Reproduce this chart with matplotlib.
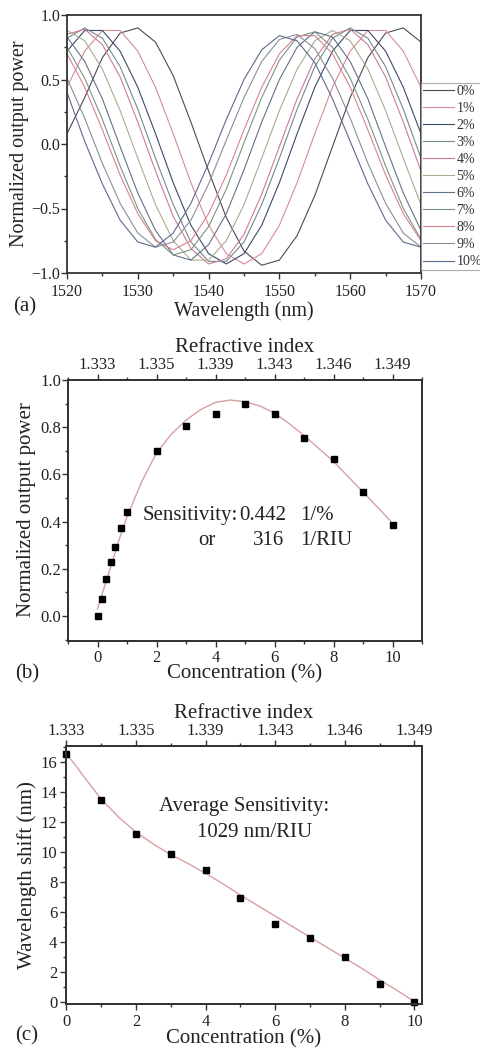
import matplotlib
matplotlib.use("Agg")
import matplotlib.pyplot as plt
from matplotlib.ticker import MultipleLocator, FixedLocator

plt.rcParams['font.family'] = ['Liberation Serif', 'DejaVu Serif']
plt.rcParams['mathtext.fontset'] = 'stix'

# ---- (a) transmission spectra, one per concentration ----
wavelength = [1520, 1522.5, 1525, 1527.5, 1530, 1532.5, 1535, 1537.5, 1540, 1542.5,
              1545, 1547.5, 1550, 1552.5, 1555, 1557.5, 1560, 1562.5, 1565, 1567.5, 1570]
conc_labels = ['0%', '1%', '2%', '3%', '4%', '5%', '6%', '7%', '8%', '9%', '10%']
p0 = [0.08, 0.36, 0.67, 0.86, 0.90, 0.79, 0.53, 0.17, -0.21, -0.57, -0.83, -0.94, -0.90, -0.71, -0.40, -0.02, 0.36, 0.67, 0.86, 0.90, 0.79]
p1 = [0.44, 0.72, 0.88, 0.88, 0.72, 0.44, 0.08, -0.30, -0.63, -0.85, -0.93, -0.85, -0.63, -0.30, 0.08, 0.44, 0.72, 0.88, 0.88, 0.72, 0.44]
p2 = [0.72, 0.88, 0.88, 0.72, 0.44, 0.08, -0.30, -0.63, -0.85, -0.93, -0.85, -0.63, -0.30, 0.08, 0.44, 0.72, 0.88, 0.88, 0.72, 0.44, 0.08]
p3 = [0.82, 0.90, 0.82, 0.60, 0.27, -0.11, -0.47, -0.76, -0.91, -0.91, -0.76, -0.47, -0.11, 0.27, 0.60, 0.82, 0.90, 0.82, 0.60, 0.27, -0.11]
p4 = [0.85, 0.89, 0.77, 0.52, 0.17, -0.21, -0.56, -0.81, -0.93, -0.89, -0.70, -0.39, -0.02, 0.35, 0.66, 0.85, 0.89, 0.77, 0.52, 0.17, -0.21]
p5 = [0.88, 0.80, 0.58, 0.26, -0.11, -0.47, -0.75, -0.90, -0.90, -0.75, -0.47, -0.11, 0.26, 0.58, 0.80, 0.88, 0.80, 0.58, 0.26, -0.11, -0.47]
p6 = [0.83, 0.64, 0.35, -0.02, -0.38, -0.67, -0.86, -0.90, -0.78, -0.54, -0.20, 0.17, 0.50, 0.75, 0.87, 0.83, 0.64, 0.35, -0.02, -0.38, -0.67]
p7 = [0.75, 0.51, 0.19, -0.17, -0.50, -0.74, -0.86, -0.82, -0.64, -0.35, 0.01, 0.36, 0.65, 0.83, 0.87, 0.75, 0.51, 0.19, -0.17, -0.50, -0.74]
p8 = [0.70, 0.44, 0.11, -0.24, -0.54, -0.75, -0.82, -0.75, -0.54, -0.24, 0.11, 0.44, 0.70, 0.84, 0.84, 0.70, 0.44, 0.11, -0.24, -0.54, -0.75]
p9 = [0.51, 0.20, -0.15, -0.46, -0.69, -0.80, -0.76, -0.59, -0.31, 0.03, 0.36, 0.64, 0.81, 0.85, 0.74, 0.51, 0.20, -0.15, -0.46, -0.69, -0.80]
p10 = [0.40, 0.02, -0.31, -0.59, -0.76, -0.80, -0.69, -0.46, -0.15, 0.19, 0.50, 0.73, 0.84, 0.80, 0.63, 0.35, 0.02, -0.31, -0.59, -0.76, -0.80]
spectra = [p0, p1, p2, p3, p4, p5, p6, p7, p8, p9, p10]
spec_colors = ['#4a4a55', '#d98a98', '#3c4a68', '#6f8c8c', '#cf7a98', '#a9ad8c',
               '#62728a', '#7a9484', '#d98290', '#8a8f98', '#5a6b8e']

# ---- (b) output power vs concentration ----
conc_b = [0, 0.15, 0.3, 0.45, 0.6, 0.8, 1, 2, 3, 4, 5, 6, 7, 8, 9, 10]
power_b = [0.0, 0.073, 0.155, 0.227, 0.294, 0.371, 0.439, 0.699, 0.806, 0.857, 0.898,
           0.855, 0.753, 0.665, 0.524, 0.386]
fit_x_b = [0, 0.25, 0.5, 0.75, 1, 1.5, 2, 2.5, 3, 3.5, 4, 4.5, 5, 5.5, 6, 6.5, 7, 7.5,
           8, 8.5, 9, 9.5, 10]
fit_y_b = [0.03, 0.13, 0.23, 0.33, 0.42, 0.57, 0.69, 0.77, 0.83, 0.875, 0.905, 0.915,
           0.908, 0.89, 0.86, 0.815, 0.765, 0.71, 0.655, 0.59, 0.525, 0.46, 0.393]

# ---- (c) wavelength shift vs concentration ----
conc_c = [0, 1, 2, 3, 4, 5, 6, 7, 8, 9, 10]
shift_c = [16.5, 13.44, 11.16, 9.82, 8.78, 6.91, 5.2, 4.22, 3.0, 1.16, 0.0]
fit_x_c = [0, 0.25, 0.5, 1, 1.5, 2, 2.5, 3, 3.5, 4, 4.5, 5, 5.5, 6, 6.5, 7, 7.5, 8,
           8.5, 9, 9.5, 10]
fit_y_c = [16.5, 15.8, 15.0, 13.5, 12.3, 11.3, 10.5, 9.8, 9.2, 8.55, 7.85, 7.1, 6.4,
           5.7, 5.0, 4.3, 3.6, 2.9, 2.2, 1.45, 0.75, 0.0]

ri_ticks = [0, 2, 4, 6, 8, 10]
ri_labels = ['1.333', '1.335', '1.339', '1.343', '1.346', '1.349']

W, H = 481, 1050
fig = plt.figure(figsize=(W / 100, H / 100), dpi=100)


def box(left, top, right, bottom):
    return [left / W, 1 - bottom / H, (right - left) / W, (bottom - top) / H]


def fy(py):
    return 1 - py / H


def style(ax, lsize):
    for s in ax.spines.values():
        s.set_linewidth(1.3)
        s.set_color('#333333')
    ax.tick_params(which='both', direction='out', width=1.0, color='#333333',
                   labelsize=lsize, labelcolor='#222222')
    ax.tick_params(which='major', length=4)
    ax.tick_params(which='minor', length=2.5)


LINE_FIT = '#d7a0a2'

# ===== (a) =====
axa = fig.add_axes(box(67, 15, 421, 273))
for y, c, lab in zip(spectra, spec_colors, conc_labels):
    axa.plot(wavelength, y, color=c, lw=0.8, label=lab)
axa.set_xlim(1520, 1570)
axa.set_ylim(-1.0, 1.0)
axa.xaxis.set_major_locator(MultipleLocator(10))
axa.xaxis.set_minor_locator(MultipleLocator(5))
axa.yaxis.set_major_locator(MultipleLocator(0.5))
axa.yaxis.set_minor_locator(MultipleLocator(0.25))
style(axa, 11.5)
axa.tick_params(axis='x', pad=4)
axa.tick_params(axis='y', pad=1)
axa.set_xlabel('Wavelength (nm)', fontsize=14.5, color='#222222', va='center')
axa.xaxis.set_label_coords((67 + 421) / 2 / W, fy(311), transform=fig.transFigure)
axa.set_ylabel('Normalized output power', fontsize=14.5, color='#222222', va='center')
axa.yaxis.set_label_coords(20 / W, fy(144), transform=fig.transFigure)
leg = axa.legend(loc='upper left', bbox_to_anchor=(1.0, (273 - 83) / 258),
                 borderaxespad=0, fontsize=10, frameon=True, fancybox=False,
                 handlelength=2.2, handletextpad=0.2, labelspacing=0.29,
                 borderpad=0.15)
leg.get_frame().set_edgecolor('#999999')
leg.get_frame().set_linewidth(0.8)
for t in leg.get_texts():
    t.set_color('#333333')
fig.text(13 / W, fy(307), '(a)', fontsize=15, va='center', color='#222222')

# ===== (b) =====
axb = fig.add_axes(box(68, 380, 422, 641))
axb.plot(fit_x_b, fit_y_b, color=LINE_FIT, lw=1.0)
axb.plot(conc_b, power_b, 's', color='black', ms=4.5)
axb.set_xlim(-1, 11)
axb.set_ylim(-0.106, 1.0)
axb.xaxis.set_major_locator(MultipleLocator(2))
axb.xaxis.set_minor_locator(MultipleLocator(1))
axb.yaxis.set_major_locator(MultipleLocator(0.2))
axb.yaxis.set_minor_locator(MultipleLocator(0.1))
style(axb, 12)
axb.tick_params(axis='x', pad=2.5)
axb.tick_params(axis='y', pad=1)
axb.set_xlabel('Concentration (%)', fontsize=15, color='#222222', va='center')
axb.xaxis.set_label_coords((68 + 422) / 2 / W, fy(674), transform=fig.transFigure)
axb.set_ylabel('Normalized output power', fontsize=15, color='#222222', va='center')
axb.yaxis.set_label_coords(27 / W, fy(510), transform=fig.transFigure)
tb = axb.twiny()
tb.set_xlim(axb.get_xlim())
tb.xaxis.set_major_locator(FixedLocator(ri_ticks))
tb.set_xticklabels(ri_labels)
tb.xaxis.set_minor_locator(MultipleLocator(1))
style(tb, 12)
tb.tick_params(axis='x', pad=1)
tb.set_xlabel('Refractive index', fontsize=15, color='#222222', va='center')
tb.xaxis.set_label_coords((68 + 422) / 2 / W, fy(348), transform=fig.transFigure)
tx = dict(fontsize=15, color='#222222', va='center')
axb.text(1.515, 0.424, 'Sensitivity:', ha='left', **tx)
axb.text(6.40, 0.424, '0.442', ha='right', **tx)
axb.text(6.87, 0.424, '1/%', ha='left', **tx)
axb.text(3.41, 0.318, 'or', ha='left', **tx)
axb.text(6.33, 0.318, '316', ha='right', **tx)
axb.text(6.87, 0.318, '1/RIU', ha='left', **tx)
fig.text(15 / W, fy(674), '(b)', fontsize=15, va='center', color='#222222')

# ===== (c) =====
axc = fig.add_axes(box(65.7, 746, 421.7, 1004))
axc.plot(fit_x_c, fit_y_c, color=LINE_FIT, lw=1.0)
axc.plot(conc_c, shift_c, 's', color='black', ms=4.5, clip_on=False)
axc.set_xlim(-0.02, 10.21)
axc.set_ylim(-0.16, 17.04)
axc.xaxis.set_major_locator(MultipleLocator(2))
axc.xaxis.set_minor_locator(MultipleLocator(1))
axc.yaxis.set_major_locator(MultipleLocator(2))
axc.yaxis.set_minor_locator(MultipleLocator(1))
style(axc, 12)
axc.tick_params(axis='x', pad=3)
axc.tick_params(axis='y', pad=2)
axc.set_xlabel('Concentration (%)', fontsize=15, color='#222222', va='center')
axc.xaxis.set_label_coords((65.7 + 421.7) / 2 / W, fy(1039), transform=fig.transFigure)
axc.set_ylabel('Wavelength shift (nm)', fontsize=15, color='#222222', va='center')
axc.yaxis.set_label_coords(27 / W, fy(875), transform=fig.transFigure)
tc = axc.twiny()
tc.set_xlim(axc.get_xlim())
tc.xaxis.set_major_locator(FixedLocator(ri_ticks))
tc.set_xticklabels(ri_labels)
tc.xaxis.set_minor_locator(MultipleLocator(1))
style(tc, 12)
tc.tick_params(axis='x', pad=1)
tc.set_xlabel('Refractive index', fontsize=15, color='#222222', va='center')
tc.xaxis.set_label_coords((65.7 + 421.7) / 2 / W, fy(713), transform=fig.transFigure)
axc.text(2.66, 12.98, 'Average Sensitivity:', ha='left', **tx)
axc.text(3.76, 11.3, '1029 nm/RIU', ha='left', **tx)
fig.text(15 / W, fy(1036), '(c)', fontsize=15, va='center', color='#222222')

fig.savefig('out.png', dpi=100, facecolor='white')
